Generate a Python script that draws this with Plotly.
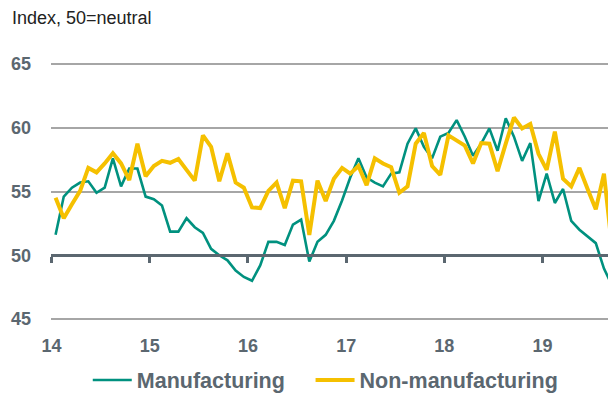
import plotly.graph_objects as go

# Monthly data, Jan 2014 onwards
manufacturing = [51.6, 54.6, 55.3, 55.7, 55.8, 54.9, 55.3, 57.6, 55.4, 56.8, 56.8, 54.6,
                 54.4, 53.9, 51.85, 51.85, 52.9, 52.2, 51.75, 50.5, 50.0, 49.6, 48.8, 48.3,
                 48.0, 49.2, 51.05, 51.05, 50.8, 52.4, 52.8, 49.5, 51.05, 51.6, 52.7, 54.3,
                 56.1, 57.6, 56.1, 55.7, 55.4, 56.4, 56.5, 58.75, 59.95, 58.5, 57.6, 59.3,
                 59.6, 60.6, 59.3, 57.8, 58.75, 59.95, 58.2, 60.75, 59.3, 57.4, 58.8, 54.25,
                 56.4, 54.1, 55.2, 52.7, 52.0, 51.5, 50.95, 48.95, 47.6]
non_manufacturing = [54.5, 52.9, 54.0, 55.05, 56.85, 56.5, 57.2, 58.0, 57.2, 55.9, 58.75, 56.2,
                     57.0, 57.4, 57.25, 57.55, 56.7, 55.85, 59.4, 58.5, 55.8, 58.0, 55.7, 55.3,
                     53.75, 53.7, 55.05, 55.7, 53.7, 55.85, 55.8, 51.6, 55.85, 54.25, 56.0, 56.85,
                     56.4, 57.0, 55.5, 57.6, 57.2, 56.9, 54.9, 55.4, 58.75, 59.6, 57.0, 56.3,
                     59.4, 59.0, 58.6, 57.2, 58.8, 58.75, 56.6, 58.75, 60.8, 59.95, 60.3, 57.95,
                     56.7, 59.7, 56.0, 55.4, 56.85, 55.2, 53.6, 56.4, 50.5]
start_year = 14
x_months = [start_year + (i + 0.5) / 12 for i in range(len(manufacturing))]
year_ticks = [14, 15, 16, 17, 18, 19]
year_labels = ["14", "15", "16", "17", "18", "19"]
y_ticks = [45, 50, 55, 60, 65]

TEAL = "#00917f"
YELLOW = "#f5c000"
SLATE = "#5b6770"
GRID = "#a6a6a6"

fig = go.Figure()
fig.add_trace(go.Scatter(x=x_months, y=manufacturing, mode="lines", name="Manufacturing",
                         line=dict(color=TEAL, width=2.6), legend="legend"))
fig.add_trace(go.Scatter(x=x_months, y=non_manufacturing, mode="lines", name="Non-manufacturing",
                         line=dict(color=YELLOW, width=4), xaxis="x2", yaxis="y",
                         legend="legend2"))

xr = [13.995, 19.666]
yr = [44.92, 65.08]
tickfont = dict(family="Liberation Sans", size=18, color=SLATE, weight="bold")
legend_style = dict(orientation="h", xref="paper", xanchor="left",
                    yref="container", y=14 / 394, yanchor="middle",
                    font=dict(family="Liberation Sans", size=21.5, color=SLATE, weight="bold"),
                    itemwidth=39, bgcolor="rgba(0,0,0,0)")

fig.update_layout(
    width=608, height=394,
    margin=dict(l=51, r=0, t=63, b=74),
    paper_bgcolor="white", plot_bgcolor="white",
    showlegend=True,
    legend=dict(legend_style, x=0.066),
    legend2=dict(legend_style, x=0.466),
    xaxis=dict(range=xr, tickvals=year_ticks, ticktext=year_labels, showgrid=False,
               showline=False, zeroline=False, ticks="", tickfont=tickfont,
               ticklabelstandoff=13),
    xaxis2=dict(range=xr, overlaying="x", anchor="free", position=(50 - yr[0]) / (yr[1] - yr[0]),
                side="bottom",
                tickvals=year_ticks, showticklabels=False, showgrid=False, zeroline=False,
                showline=True, linecolor=SLATE, linewidth=2.5,
                ticks="outside", ticklen=6, tickwidth=2.5, tickcolor=SLATE),
    yaxis=dict(range=yr, tickvals=y_ticks, showgrid=True, gridcolor=GRID, gridwidth=1.5,
               zeroline=False, showline=False, ticks="", tickfont=tickfont,
               ticklabelstandoff=19),
)

fig.add_annotation(text="Index, 50=neutral", xref="paper", yref="paper",
                   x=-0.0736, y=1 + 45 / 257, xanchor="left", yanchor="middle",
                   showarrow=False,
                   font=dict(family="Liberation Sans", size=18, color="#222222"))

fig.write_html("out.html")
